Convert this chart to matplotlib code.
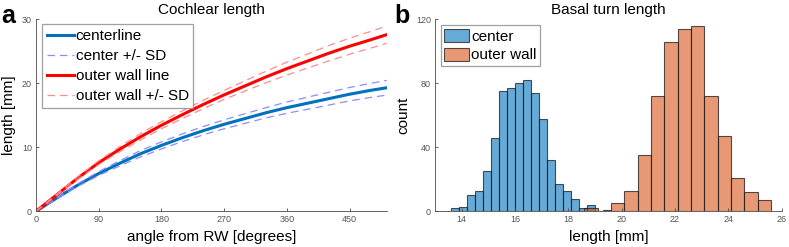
import numpy as np
import matplotlib.pyplot as plt

plt.rcParams["font.family"] = ["Liberation Sans", "DejaVu Sans"]

# panel a: cochlear length vs angle from round window
angle = [0, 30, 60, 90, 120, 150, 180, 210, 240, 270, 300, 330, 360, 390, 420, 450, 480, 503]
center_len = [0, 2.1, 4.1, 5.9, 7.5, 9.0, 10.3, 11.5, 12.6, 13.6, 14.5, 15.4, 16.2, 16.9, 17.6, 18.3, 18.9, 19.3]
center_sd = [0, 0.1, 0.2, 0.3, 0.4, 0.5, 0.55, 0.6, 0.65, 0.7, 0.75, 0.8, 0.88, 0.95, 1.0, 1.05, 1.1, 1.15]
outer_len = [0, 2.6, 5.2, 7.6, 9.7, 11.65, 13.45, 15.1, 16.7, 18.2, 19.6, 21.0, 22.3, 23.5, 24.7, 25.8, 26.8, 27.6]
outer_sd = [0, 0.1, 0.2, 0.3, 0.4, 0.5, 0.55, 0.6, 0.65, 0.7, 0.8, 0.9, 1.0, 1.1, 1.2, 1.25, 1.3, 1.35]

# panel b: basal turn length histograms
center_edges = np.round(np.arange(13.6, 19.61, 0.3), 2)
center_counts = [2, 3, 10, 13, 25, 46, 75, 77, 80, 82, 74, 58, 32, 17, 13, 8, 2, 4, 0, 1]
outer_edges = np.round(np.arange(18.6, 25.61, 0.5), 2)
outer_counts = [2, 0, 5, 13, 35, 72, 106, 114, 116, 72, 47, 21, 12, 7]

W, H = 789, 247
fig = plt.figure(figsize=(W / 100, H / 100), dpi=100)


def px_axes(x0, y0, x1, y1):
    return fig.add_axes([x0 / W, 1 - y1 / H, (x1 - x0) / W, (y1 - y0) / H])


def style_axes(ax):
    for side in ["top", "right"]:
        ax.spines[side].set_visible(False)
    for side in ["left", "bottom"]:
        ax.spines[side].set_color("#4a4a4a")
        ax.spines[side].set_linewidth(0.6)
    ax.tick_params(direction="in", length=2.5, width=0.6, colors="#4a4a4a",
                   labelsize=6.5, labelcolor="#555555", pad=3)


ax1 = px_axes(36, 19.3, 386.7, 211.3)
ang = np.array(angle)
c = np.array(center_len)
cs = np.array(center_sd)
o = np.array(outer_len)
osd = np.array(outer_sd)

dash = (0, (6, 4))
ax1.plot(ang, c, color="#0072BD", lw=2.2, label="centerline")
ax1.plot(ang, c + cs, color="#8C8CFF", lw=0.9, ls=dash, label="center +/- SD")
ax1.plot(ang, c - cs, color="#8C8CFF", lw=0.9, ls=dash)
ax1.plot(ang, o, color="#FF0000", lw=2.2, label="outer wall line")
ax1.plot(ang, o + osd, color="#FF8C8C", lw=0.9, ls=dash, label="outer wall +/- SD")
ax1.plot(ang, o - osd, color="#FF8C8C", lw=0.9, ls=dash)

ax1.set_xlim(0, 503)
ax1.set_ylim(0, 30)
ax1.set_xticks([0, 90, 180, 270, 360, 450])
ax1.set_yticks([0, 10, 20, 30])
style_axes(ax1)
ax1.set_xlabel("angle from RW [degrees]", fontsize=11, labelpad=4)
ax1.set_ylabel("length [mm]", fontsize=11, labelpad=4)
ax1.set_title("Cochlear length", fontsize=11, pad=4)
leg1 = ax1.legend(loc="upper left", bbox_to_anchor=(0.017, 0.973), fontsize=11,
                  frameon=True, fancybox=False, handlelength=1.8, handletextpad=0.1,
                  borderpad=0.3, labelspacing=0.4, borderaxespad=0)
leg1.get_frame().set_edgecolor("#888888")
leg1.get_frame().set_linewidth(0.9)

ax2 = px_axes(435, 19.3, 781.7, 211.3)
ax2.bar(center_edges[:-1], center_counts, width=np.diff(center_edges), align="edge",
        facecolor=(0, 0.447, 0.741, 0.6), edgecolor=(0.1, 0.1, 0.1, 0.75), lw=0.8,
        label="center")
ax2.bar(outer_edges[:-1], outer_counts, width=np.diff(outer_edges), align="edge",
        facecolor=(0.85, 0.325, 0.098, 0.6), edgecolor=(0.1, 0.1, 0.1, 0.75), lw=0.8,
        label="outer wall")
ax2.set_xlim(13, 26)
ax2.set_ylim(0, 120)
ax2.set_xticks([14, 16, 18, 20, 22, 24, 26])
ax2.set_yticks([0, 40, 80, 120])
style_axes(ax2)
ax2.set_xlabel("length [mm]", fontsize=11, labelpad=4)
ax2.set_ylabel("count", fontsize=11, labelpad=4)
ax2.set_title("Basal turn length", fontsize=11, pad=4)
leg2 = ax2.legend(loc="upper left", bbox_to_anchor=(0.016, 0.97), fontsize=11,
                  frameon=True, fancybox=False, handlelength=1.6, handleheight=0.95,
                  handletextpad=0.15, borderpad=0.25, labelspacing=0.25, borderaxespad=0)
leg2.get_frame().set_edgecolor("#888888")
leg2.get_frame().set_linewidth(0.9)

fig.text(1 / W, 1 - 23 / H, "a", fontsize=18, fontweight="bold", va="baseline")
fig.text(394 / W, 1 - 23 / H, "b", fontsize=18, fontweight="bold", va="baseline")

fig.savefig("out.png", dpi=100)
